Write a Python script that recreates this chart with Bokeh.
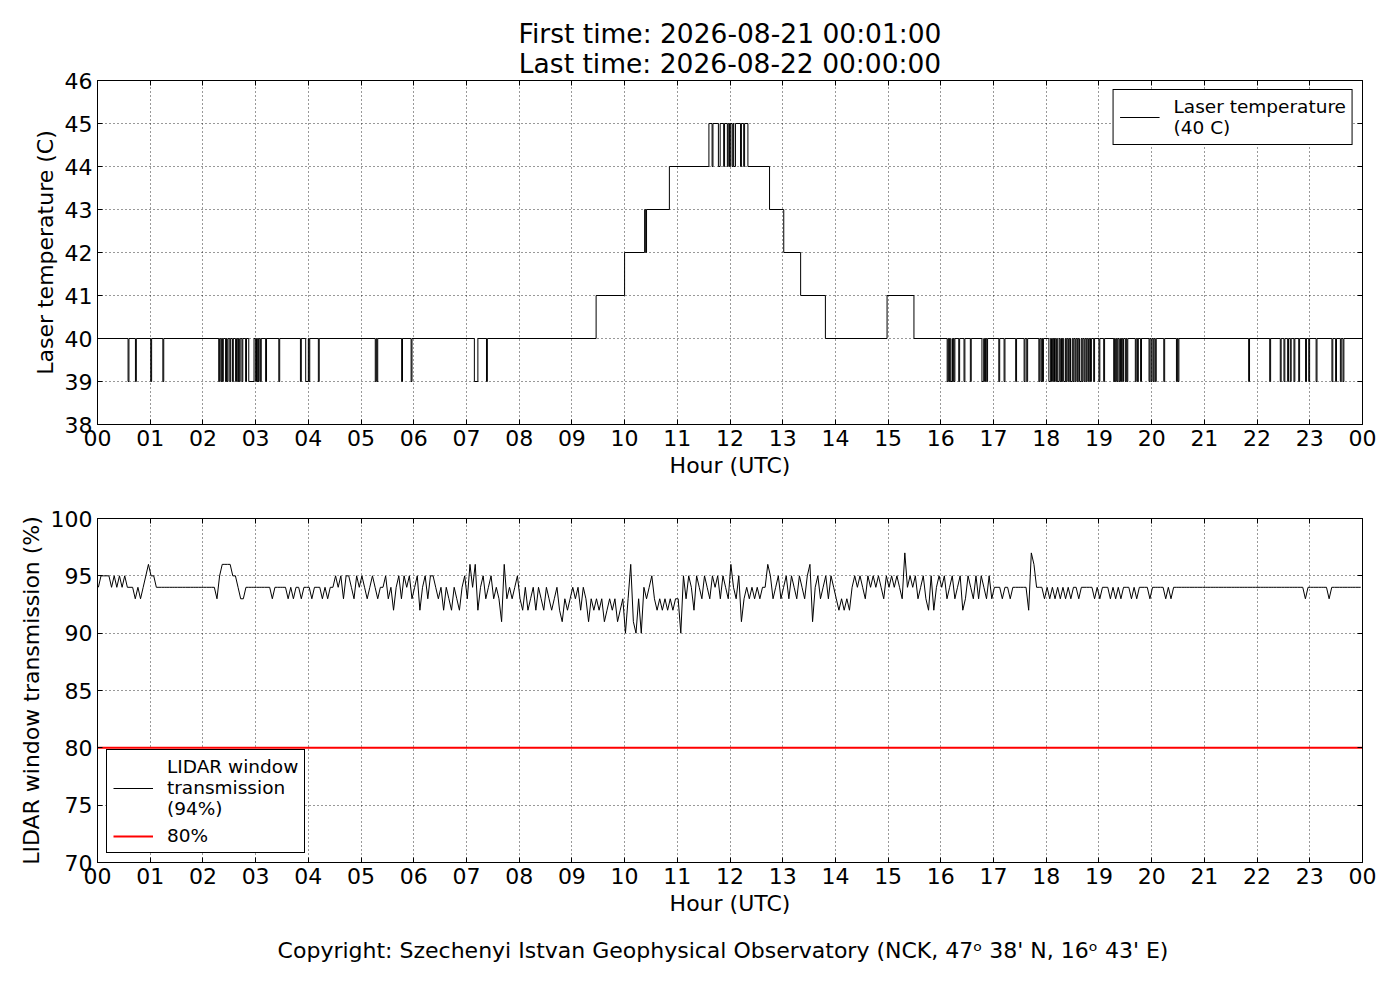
from bokeh.plotting import figure
from bokeh.layouts import column
from bokeh.models import FixedTicker, LinearAxis, Title, Range1d, CustomLabelingPolicy
from bokeh.embed import file_html
from bokeh.resources import INLINE

FONT = "DejaVu Sans"

TITLE_FIRST = "First time: 2026-08-21 00:01:00"
TITLE_LAST = "Last time: 2026-08-22 00:00:00"
COPYRIGHT = "Copyright: Szechenyi Istvan Geophysical Observatory (NCK, 47\u1d52  38' N, 16\u1d52  43' E)"

HOUR_TICKS = list(range(0, 25))
HOUR_LABELS = ["00", "01", "02", "03", "04", "05", "06", "07", "08", "09", "10", "11",
               "12", "13", "14", "15", "16", "17", "18", "19", "20", "21", "22", "23", "00"]
TEMP_TICKS = [38, 39, 40, 41, 42, 43, 44, 45, 46]
TRANS_TICKS = [70, 75, 80, 85, 90, 95, 100]

# Laser temperature: hour at which each level starts, and the level (C)
TEMP_STEP_HOURS = [0.0, 9.46, 10.00, 10.38, 10.85, 11.60, 12.34, 12.75, 13.02, 13.34, 13.81, 14.98, 15.49]
TEMP_STEP_LEVELS = [40, 41, 42, 43, 44, 45, 44, 43, 42, 41, 40, 41, 40]

# short one-degree drops below the current level: start hour and duration (minutes)
TEMP_DROP_START = [0.58, 0.72, 1.01, 1.24,
                   2.30, 2.34, 2.37, 2.43, 2.46, 2.51, 2.56, 2.62, 2.66, 2.69, 2.74, 2.81, 2.87,
                   3.00, 3.03, 3.05, 3.09, 3.19, 3.44, 3.85, 3.95, 4.01, 4.19,
                   5.27, 5.30, 5.77, 5.95, 7.15, 7.38,
                   10.40,
                   11.66, 11.78, 11.88, 11.95, 11.99, 12.04, 12.07, 12.20, 12.26,
                   16.12, 16.15, 16.18, 16.22, 16.25, 16.34, 16.44, 16.56, 16.78, 16.83, 16.87,
                   17.10, 17.20, 17.42, 17.58, 17.63, 17.86, 17.90, 17.93,
                   18.05, 18.10, 18.14, 18.18, 18.21, 18.26, 18.29, 18.33, 18.38, 18.42, 18.46,
                   18.51, 18.55, 18.59, 18.63, 18.68, 18.72, 18.76, 18.80, 18.84, 18.90,
                   19.00, 19.09, 19.28, 19.31, 19.34, 19.38, 19.41, 19.45, 19.50, 19.53,
                   19.69, 19.73, 19.79, 19.95, 19.99, 20.03, 20.07, 20.23, 20.47, 20.50,
                   21.84, 22.24, 22.44, 22.51, 22.58, 22.63, 22.70, 22.79, 22.92, 22.98,
                   23.12, 23.42, 23.49, 23.58, 23.63]
TEMP_DROP_MIN = [1, 1, 1, 1,
                 1, 1, 1, 1, 1, 1, 1, 1, 1, 1, 1, 1, 6,
                 1, 1, 1, 1, 1, 1, 1, 3, 1, 1,
                 1, 1, 1, 1, 4, 1,
                 1,
                 1, 2, 1, 1, 1, 1, 2, 1, 1,
                 1, 1, 2, 1, 1, 1, 1, 1, 2, 1, 1,
                 1, 1, 1, 1, 1, 1, 1, 1,
                 2, 1, 1, 1, 2, 1, 1, 2, 1, 1, 2,
                 1, 1, 1, 2, 1, 1, 1, 1, 1, 1,
                 1, 1, 1, 1, 1, 1, 1, 1, 1, 1,
                 1, 1, 1, 1, 1, 1, 1, 1, 1, 1,
                 1, 1, 1, 1, 1, 1, 1, 1, 1, 1,
                 1, 1, 1, 1, 1]

# LIDAR window transmission (%), 3-minute samples, one list per hour
TRANS_00 = [94, 95, 95, 95, 95, 94, 95, 94, 95, 94, 95, 94, 94, 94, 93, 94, 93, 94, 95, 96]
TRANS_01 = [95, 95, 94, 94, 94, 94, 94, 94, 94, 94, 94, 94, 94, 94, 94, 94, 94, 94, 94, 94]
TRANS_02 = [94, 94, 94, 94, 94, 93, 95, 96, 96, 96, 96, 95, 95, 94, 93, 93, 94, 94, 94, 94]
TRANS_03 = [94, 94, 94, 94, 94, 94, 93, 94, 94, 94, 94, 94, 93, 94, 93, 94, 94, 93, 94, 94]
TRANS_04 = [94, 93, 94, 94, 94, 93, 94, 93, 94, 94, 95, 94, 95, 93, 95, 95, 94, 93, 95, 94]
TRANS_05 = [95, 94, 93, 94, 95, 94, 93, 94, 94, 95, 93, 94, 92, 94, 95, 93, 95, 94, 95, 93]
TRANS_06 = [94, 95, 92, 94, 95, 93, 95, 95, 94, 93, 94, 92, 94, 93, 92, 94, 93, 92, 94, 95]
TRANS_07 = [93, 96, 94, 96, 92, 94, 95, 93, 94, 95, 93, 94, 93, 91, 96, 93, 94, 93, 94, 95]
TRANS_08 = [93, 92, 94, 92, 93, 94, 92, 94, 93, 92, 94, 93, 92, 93, 94, 92, 91, 93, 92, 93]
TRANS_09 = [94, 93, 94, 92, 94, 93, 91, 93, 92, 93, 92, 93, 91, 92, 93, 92, 93, 91, 92, 93]
TRANS_10 = [90, 93, 96, 91, 90, 93, 90, 94, 93, 94, 95, 93, 92, 93, 92, 93, 92, 93, 92, 93]
TRANS_11 = [93, 90, 95, 93, 95, 94, 92, 95, 94, 93, 95, 94, 93, 95, 94, 95, 93, 95, 94, 93]
TRANS_12 = [96, 94, 93, 95, 91, 93, 94, 93, 94, 93, 94, 93, 94, 94, 96, 95, 93, 94, 95, 93]
TRANS_13 = [94, 95, 93, 95, 94, 93, 95, 94, 93, 95, 96, 91, 94, 95, 93, 94, 95, 93, 95, 94]
TRANS_14 = [93, 92, 93, 92, 93, 92, 94, 95, 94, 95, 94, 93, 95, 94, 95, 94, 95, 94, 93, 95]
TRANS_15 = [94, 95, 94, 95, 94, 93, 97, 94, 95, 94, 95, 93, 94, 95, 93, 92, 95, 92, 94, 95]
TRANS_16 = [94, 95, 93, 94, 95, 93, 94, 95, 92, 93, 95, 94, 93, 95, 93, 95, 94, 93, 95, 93]
TRANS_17 = [94, 94, 94, 93, 94, 94, 93, 94, 94, 94, 94, 94, 94, 92, 97, 96, 94, 94, 94, 93]
TRANS_18 = [94, 93, 94, 93, 94, 93, 94, 93, 94, 93, 94, 94, 93, 94, 94, 94, 94, 94, 93, 94]
TRANS_19 = [93, 94, 94, 94, 93, 94, 93, 94, 93, 94, 94, 94, 93, 94, 93, 94, 94, 94, 94, 93]
TRANS_20 = [94, 94, 94, 94, 94, 93, 94, 93, 94, 94, 94, 94, 94, 94, 94, 94, 94, 94, 94, 94]
TRANS_21 = [94, 94, 94, 94, 94, 94, 94, 94, 94, 94, 94, 94, 94, 94, 94, 94, 94, 94, 94, 94]
TRANS_22 = [94, 94, 94, 94, 94, 94, 94, 94, 94, 94, 94, 94, 94, 94, 94, 94, 94, 94, 93, 94]
TRANS_23 = [94, 94, 94, 94, 94, 94, 94, 93, 94, 94, 94, 94, 94, 94, 94, 94, 94, 94, 94, 94]
THRESHOLD = 80

# ---------------------------------------------------------------- build series
def level_at(h):
    lv = TEMP_STEP_LEVELS[0]
    for sh, l in zip(TEMP_STEP_HOURS, TEMP_STEP_LEVELS):
        if sh <= h:
            lv = l
    return lv

pts = list(zip(TEMP_STEP_HOURS, TEMP_STEP_LEVELS))
for s, m in zip(TEMP_DROP_START, TEMP_DROP_MIN):
    base = level_at(s)
    pts.append((s, base - 1))
    pts.append((s + m / 60.0, base))
pts.sort(key=lambda t: t[0])
pts.append((24.0, pts[-1][1]))
temp_x = [p[0] for p in pts]
temp_y = [p[1] for p in pts]

trans_hours = [TRANS_00, TRANS_01, TRANS_02, TRANS_03, TRANS_04, TRANS_05, TRANS_06, TRANS_07,
               TRANS_08, TRANS_09, TRANS_10, TRANS_11, TRANS_12, TRANS_13, TRANS_14, TRANS_15,
               TRANS_16, TRANS_17, TRANS_18, TRANS_19, TRANS_20, TRANS_21, TRANS_22, TRANS_23]
trans_y = [v for hr in trans_hours for v in hr]
trans_x = [(1 + 3 * i) / 60.0 for i in range(len(trans_y))]

NO_LABELS = CustomLabelingPolicy(code="""
for (const i of indices) { indices.unset(i) }
return indices
""")


def style_axis(ax, ticks, show_labels=True, overrides=None):
    ax.ticker = FixedTicker(ticks=ticks)
    ax.major_tick_in = 5
    ax.major_tick_out = 0
    ax.major_tick_line_color = "black"
    ax.minor_tick_line_color = None
    ax.axis_line_color = "black"
    ax.major_label_text_font = FONT
    ax.major_label_text_color = "black"
    ax.major_label_text_font_size = "22px"
    ax.major_label_standoff = 5
    ax.axis_label_text_font = FONT
    ax.axis_label_text_font_size = "22px"
    ax.axis_label_text_font_style = "normal"
    ax.axis_label_text_color = "black"
    ax.axis_label_standoff = 4
    if not show_labels:
        ax.major_label_policy = NO_LABELS
        ax.major_label_text_font_size = "0px"
        ax.major_label_standoff = 0
        ax.axis_label_standoff = 0
    if overrides:
        ax.major_label_overrides = overrides


def make_fig(y0, y1, yticks, ylabel, min_top, min_bottom):
    p = figure(frame_width=1265, frame_height=344,
               x_range=Range1d(0, 24), y_range=Range1d(y0, y1),
               output_backend="svg", toolbar_location=None,
               min_border_left=97, min_border_right=22,
               min_border_top=min_top, min_border_bottom=min_bottom,
               background_fill_color="white", border_fill_color="white")
    p.outline_line_color = "black"
    p.outline_line_alpha = 1
    p.outline_line_width = 1
    style_axis(p.xaxis[0], HOUR_TICKS,
               overrides={t: l for t, l in zip(HOUR_TICKS, HOUR_LABELS)})
    p.xaxis[0].axis_label = "Hour (UTC)"
    style_axis(p.yaxis[0], yticks)
    p.yaxis[0].axis_label = ylabel
    top = LinearAxis()
    style_axis(top, HOUR_TICKS, show_labels=False)
    p.add_layout(top, "above")
    right = LinearAxis()
    style_axis(right, yticks, show_labels=False)
    p.add_layout(right, "right")
    for g, t in ((p.xgrid[0], HOUR_TICKS), (p.ygrid[0], yticks)):
        g.ticker = FixedTicker(ticks=t)
        g.grid_line_color = "black"
        g.grid_line_dash = "1 3"
        g.grid_line_width = 1
        g.grid_line_alpha = 0.8
    return p


def style_legend(p, loc):
    lg = p.legend[0]
    lg.location = loc
    lg.label_text_font = FONT
    lg.label_text_font_size = "18.5px"
    lg.label_text_color = "black"
    lg.border_line_color = "black"
    lg.border_line_width = 1
    lg.border_line_alpha = 1
    lg.background_fill_alpha = 1
    lg.glyph_width = 40
    lg.label_standoff = 14
    lg.padding = 6
    lg.spacing = 6
    lg.margin = 9


def title(text, standoff):
    return Title(text=text, align="center", text_font=FONT, text_font_size="26.5px",
                 text_font_style="normal", text_color="black", standoff=standoff)


# ---------------------------------------------------------------- top panel
p1 = make_fig(38, 46, TEMP_TICKS, "Laser temperature (C)", 80, 60)
p1.step(temp_x, temp_y, mode="after", line_color="black", line_width=1,
        legend_label="Laser temperature\n(40 C)")
style_legend(p1, "top_right")
p1.add_layout(title(TITLE_LAST, 3), "above")
p1.add_layout(title(TITLE_FIRST, -8), "above")

# ---------------------------------------------------------------- bottom panel
p2 = make_fig(70, 100, TRANS_TICKS, "LIDAR window transmission (%)", 34, 118)
p2.line(trans_x, trans_y, line_color="black", line_width=1,
        legend_label="LIDAR window\ntransmission\n(94%)")
p2.line([0, 24], [THRESHOLD, THRESHOLD], line_color="red", line_width=2, legend_label="80%")
style_legend(p2, "bottom_left")
p2.add_layout(Title(text=COPYRIGHT, align="center", text_font=FONT, text_font_size="22px",
                    text_font_style="normal", text_color="black", standoff=34), "below")

layout = column(p1, p2)
open("out.html", "w").write(file_html(layout, INLINE))
